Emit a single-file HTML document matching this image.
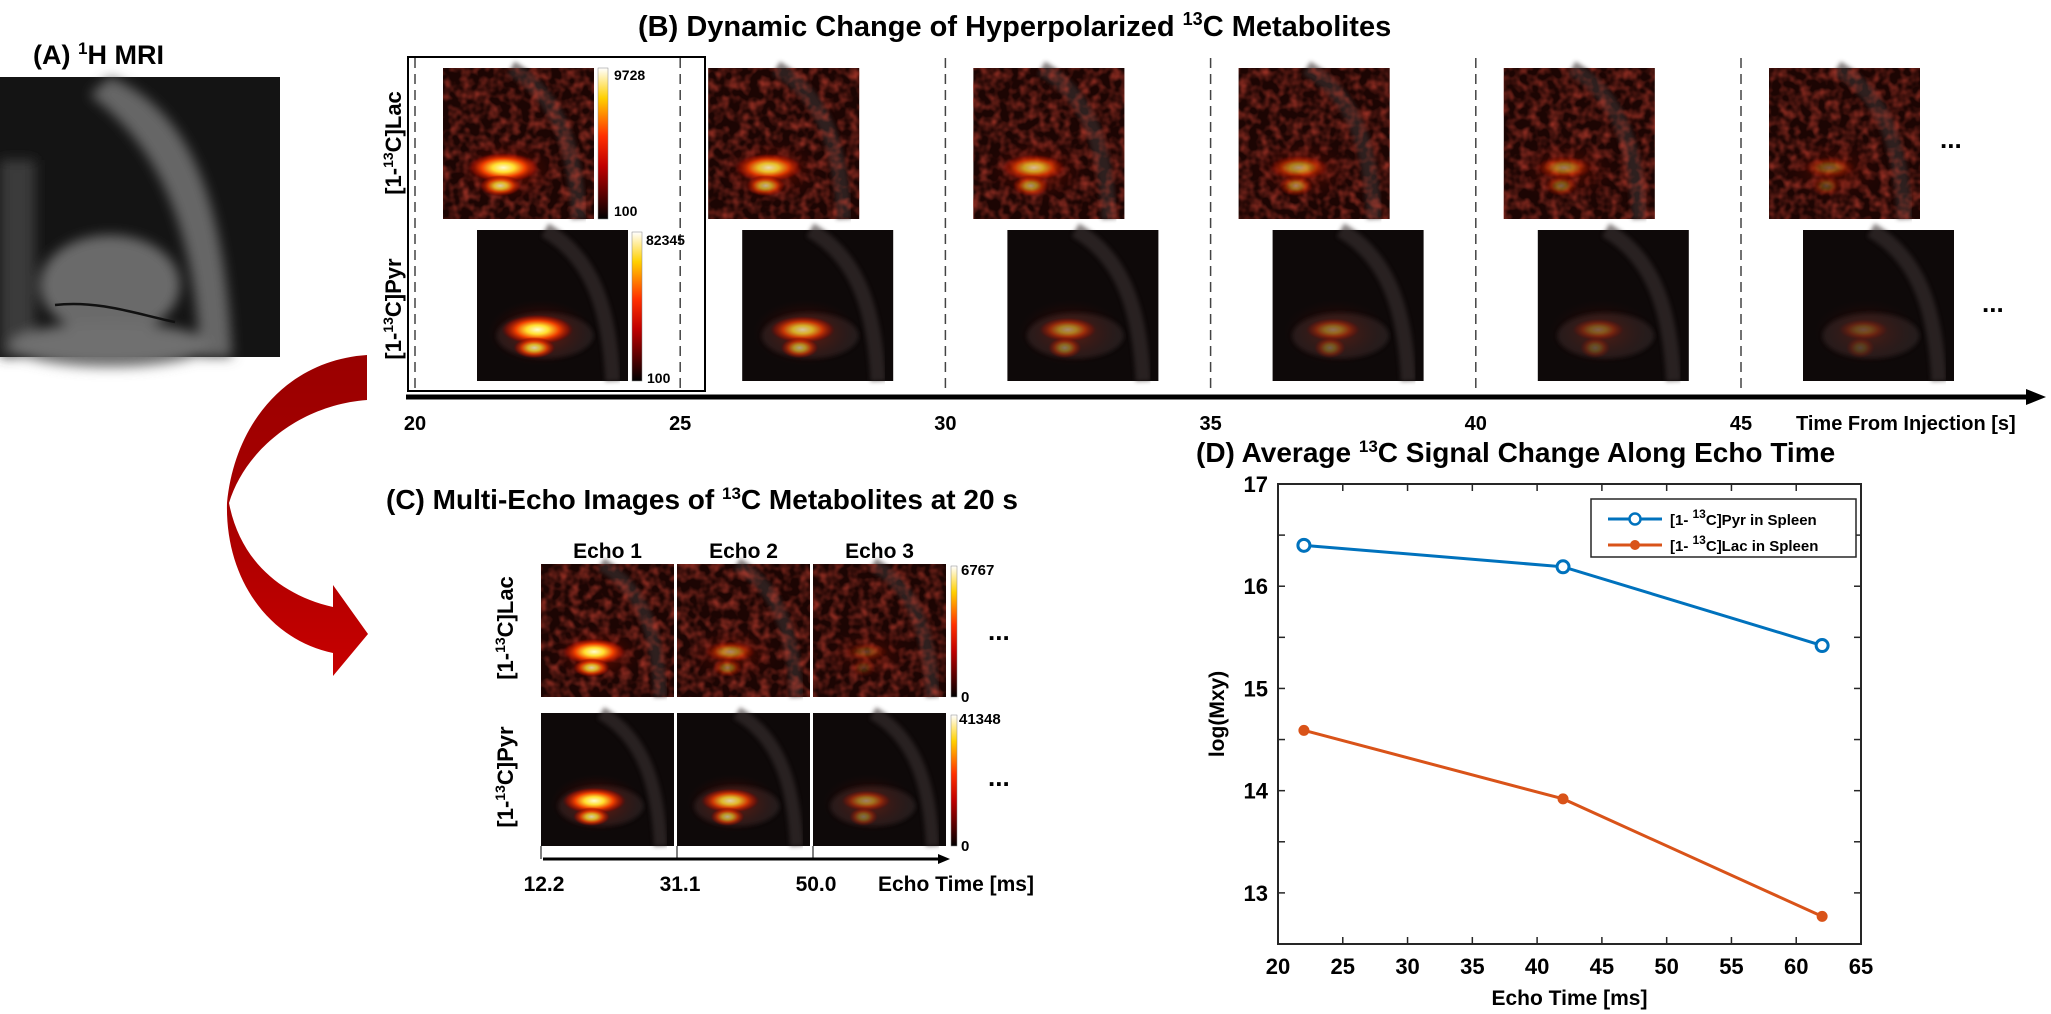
<!DOCTYPE html>
<html><head><meta charset="utf-8">
<style>
html,body{margin:0;padding:0;background:#fff;}
svg{display:block;font-family:"Liberation Sans",Arial,sans-serif;font-weight:bold;}
</style></head>
<body>
<svg id="fig" width="2051" height="1014" viewBox="0 0 2051 1014" xmlns="http://www.w3.org/2000/svg">
<defs>
  <radialGradient id="hot" cx="50%" cy="50%" r="50%">
    <stop offset="0" stop-color="#fffbd0"/>
    <stop offset="0.3" stop-color="#ffe030"/>
    <stop offset="0.6" stop-color="#f04000"/>
    <stop offset="0.85" stop-color="#a01000" stop-opacity="0.6"/>
    <stop offset="1" stop-color="#600000" stop-opacity="0"/>
  </radialGradient>
  <radialGradient id="haze" cx="50%" cy="50%" r="50%">
    <stop offset="0" stop-color="#c02000" stop-opacity="0.8"/>
    <stop offset="1" stop-color="#400000" stop-opacity="0"/>
  </radialGradient>
  <linearGradient id="cbar" x1="0" y1="1" x2="0" y2="0">
    <stop offset="0" stop-color="#000"/>
    <stop offset="0.35" stop-color="#c00000"/>
    <stop offset="0.55" stop-color="#ff3000"/>
    <stop offset="0.8" stop-color="#ffd000"/>
    <stop offset="1" stop-color="#ffffff"/>
  </linearGradient>
  <linearGradient id="arrowGrad" x1="0" y1="0" x2="0" y2="1">
    <stop offset="0" stop-color="#9a0000"/>
    <stop offset="0.5" stop-color="#a80000"/>
    <stop offset="1" stop-color="#c80000"/>
  </linearGradient>
  <filter id="noise" x="0" y="0" width="100%" height="100%">
    <feTurbulence type="fractalNoise" baseFrequency="0.1" numOctaves="2" seed="3"/>
    <feColorMatrix type="matrix" values="0 0 0 0 0.55  0 0 0 0 0.05  0 0 0 0 0.03  1.6 0 0 0 -0.6"/>
  </filter>
  <filter id="blur6"><feGaussianBlur stdDeviation="6"/></filter>
  <filter id="blur2"><feGaussianBlur stdDeviation="2"/></filter>
</defs>

<!-- (A) -->
<text x="33" y="64" font-size="27">(A) <tspan font-size="17" dy="-10">1</tspan><tspan dy="10">H MRI</tspan></text>
<g>
  <rect x="0" y="77" width="280" height="280" fill="#141414"/>
  <g filter="url(#blur6)">
    <path d="M0,160 L35,160 L35,357 L0,357Z" fill="#3a3a3a"/>
    <path d="M110,77 C190,110 225,200 232,357 L200,357 C195,240 165,150 90,95Z" fill="#666"/>
    <ellipse cx="110" cy="285" rx="70" ry="50" fill="#6a6a6a"/>
    <ellipse cx="110" cy="345" rx="100" ry="22" fill="#707070"/>
  </g>
  <path d="M55,305 C100,300 140,315 175,322" stroke="#111" stroke-width="2.5" fill="none"/>
</g>

<!-- curved arrow -->
<path d="M367,355 C290,360 235,420 227,503 C225,580 270,640 333,653 L333,676 L368,634 L333,585 L333,607 C280,595 240,560 229,503 C245,450 300,405 367,400 Z" fill="url(#arrowGrad)"/>

<!-- (B) -->
<text x="638" y="36" font-size="29">(B) Dynamic Change of Hyperpolarized <tspan font-size="18" dy="-11">13</tspan><tspan dy="11">C Metabolites</tspan></text>
<rect x="408" y="57" width="297" height="334" fill="none" stroke="#000" stroke-width="2"/>
<g id="bgroup"></g>
<text transform="translate(401,143) rotate(-90)" text-anchor="middle" font-size="22">[1-<tspan font-size="14" dy="-8">13</tspan><tspan dy="8">C]Lac</tspan></text>
<text transform="translate(401,309) rotate(-90)" text-anchor="middle" font-size="22">[1-<tspan font-size="14" dy="-8">13</tspan><tspan dy="8">C]Pyr</tspan></text>
<text x="1940" y="148" font-size="26">...</text>
<text x="1982" y="312" font-size="26">...</text>
<line x1="406" y1="397" x2="2030" y2="397" stroke="#000" stroke-width="5"/>
<polygon points="2026,389 2046,397 2026,405" fill="#000"/>
<g id="btick" font-size="20"></g>
<text x="1796" y="430" font-size="20">Time From Injection [s]</text>

<!-- (C) -->
<text x="386" y="509" font-size="28">(C) Multi-Echo Images of <tspan font-size="17" dy="-10">13</tspan><tspan dy="10">C Metabolites at 20 s</tspan></text>
<g id="cgroup"></g>
<text transform="translate(513,628) rotate(-90)" text-anchor="middle" font-size="22">[1-<tspan font-size="14" dy="-8">13</tspan><tspan dy="8">C]Lac</tspan></text>
<text transform="translate(513,777) rotate(-90)" text-anchor="middle" font-size="22">[1-<tspan font-size="14" dy="-8">13</tspan><tspan dy="8">C]Pyr</tspan></text>
<text x="988" y="640" font-size="26">...</text>
<text x="988" y="786" font-size="26">...</text>
<line x1="543" y1="859" x2="940" y2="859" stroke="#000" stroke-width="3"/>
<polygon points="938,854 950,859 938,864" fill="#000"/>
<g id="ctick" font-size="21"></g>
<text x="878" y="891" font-size="21">Echo Time [ms]</text>

<!-- (D) -->
<text x="1196" y="462" font-size="28">(D) Average <tspan font-size="17" dy="-10">13</tspan><tspan dy="10">C Signal Change Along Echo Time</tspan></text>
<g id="dchart"></g>
</svg>

<script>
// ---- Panel B data ----
var bTimes = [20, 25, 30, 35, 40, 45];
var bLacIntensity = [1.0, 0.85, 0.7, 0.55, 0.45, 0.3];
var bPyrIntensity = [1.0, 0.75, 0.5, 0.38, 0.3, 0.22];
// ---- Panel C data ----
var cEchoLabels = ["Echo 1", "Echo 2", "Echo 3"];
var cEchoTimes = ["12.2", "31.1", "50.0"];
var cLacIntensity = [1.0, 0.5, 0.2];
var cPyrIntensity = [1.0, 0.8, 0.45];
// ---- Panel D data ----
var echoTimes = [22, 42, 62];
var pyrValues = [16.4, 16.19, 15.42];
var lacValues = [14.59, 13.92, 12.77];
var xTicks = [20, 25, 30, 35, 40, 45, 50, 55, 60, 65];
var yTicks = [13, 14, 15, 16, 17];
var yMinor = [12.5, 13.5, 14.5, 15.5, 16.5];

var NS = "http://www.w3.org/2000/svg";
function mk(tag, attrs, parent) {
  var e = document.createElementNS(NS, tag);
  for (var k in attrs) e.setAttribute(k, attrs[k]);
  if (parent) parent.appendChild(e);
  return e;
}

function heatImage(parent, x, y, w, h, k, kind) {
  var g = mk("g", {}, parent);
  mk("rect", {x: x, y: y, width: w, height: h, fill: kind === "lac" ? "#1c0503" : "#0e0909"}, g);
  mk("path", {d: "M" + (x + w * 0.45) + "," + y + " C" + (x + w * 0.8) + "," + (y + h * 0.2) + " " + (x + w * 0.88) + "," + (y + h * 0.6) + " " + (x + w * 0.9) + "," + (y + h), stroke: "#3a3030", "stroke-width": w * 0.1, fill: "none", opacity: 0.6, filter: "url(#blur2)"}, g);
  if (kind === "lac") {
    mk("rect", {x: x, y: y, width: w, height: h, filter: "url(#noise)", opacity: 0.85}, g);
  } else {
    mk("ellipse", {cx: x + w * 0.45, cy: y + h * 0.7, rx: w * 0.32, ry: h * 0.15, fill: "#2a2020", opacity: 0.8, filter: "url(#blur2)"}, g);
  }
  mk("ellipse", {cx: x + w * 0.42, cy: y + h * 0.68, rx: w * 0.35, ry: h * 0.22, fill: "url(#haze)", opacity: 0.5 * k + 0.25}, g);
  mk("ellipse", {cx: x + w * 0.4, cy: y + h * 0.66, rx: w * 0.24 * (0.6 + 0.4 * k), ry: h * 0.1 * (0.6 + 0.4 * k), fill: "url(#hot)", opacity: k}, g);
  mk("ellipse", {cx: x + w * 0.38, cy: y + h * 0.78, rx: w * 0.14 * (0.6 + 0.4 * k), ry: h * 0.07, fill: "url(#hot)", opacity: 0.8 * k}, g);
  return g;
}

// Panel B
var bg = document.getElementById("bgroup");
var bt = document.getElementById("btick");
var bx0 = 423, bx1 = 1749;
function bxScale(t) { return bx0 + (t - 20) / 25 * (bx1 - bx0); }
for (var i = 0; i < bTimes.length; i++) {
  var lx = bxScale(bTimes[i]) + 20;
  var gl = heatImage(bg, lx, 68, 151, 151, bLacIntensity[i], "lac");
  
  
  var gp = heatImage(bg, lx + 34, 230, 151, 151, bPyrIntensity[i], "pyr");
  
  
  var tx = bxScale(bTimes[i]) - 8;
  var tl = mk("text", {x: tx, y: 430, "text-anchor": "middle"}, bt);
  tl.textContent = bTimes[i];
  
  
  var dl = mk("line", {x1: tx, y1: 58, x2: tx, y2: 394, stroke: "#444", "stroke-width": 1.5, "stroke-dasharray": "10,6"}, bg);
  
  
}
var cb1 = mk("rect", {x: 598, y: 68, width: 10, height: 151, fill: "url(#cbar)", stroke: "#888", "stroke-width": 0.5}, bg);


var cb2 = mk("rect", {x: 632, y: 232, width: 10, height: 149, fill: "url(#cbar)", stroke: "#888", "stroke-width": 0.5}, bg);


[["9728", 614, 80], ["100", 614, 216], ["82345", 646, 245], ["100", 647, 383]].forEach(function (a) {
  var t = mk("text", {x: a[1], y: a[2], "font-size": 14}, bg);
  t.textContent = a[0];
  
  
});

// Panel C
var cg = document.getElementById("cgroup");
var ct = document.getElementById("ctick");
var cW = 133, cX0 = 541;
for (var j = 0; j < cEchoLabels.length; j++) {
  var x = cX0 + j * (cW + 3);
  var el = mk("text", {x: x + cW / 2, y: 558, "text-anchor": "middle", "font-size": 21}, cg);
  el.textContent = cEchoLabels[j];
  
  
  var a1 = heatImage(cg, x, 564, cW, 133, cLacIntensity[j], "lac");
  
  
  var a2 = heatImage(cg, x, 713, cW, 133, cPyrIntensity[j], "pyr");
  
  
  var tk = mk("line", {x1: x, y1: 846, x2: x, y2: 859, stroke: "#000", "stroke-width": 1}, ct);
  
  
  var tt = mk("text", {x: x + 3, y: 891, "text-anchor": "middle"}, ct);
  tt.textContent = cEchoTimes[j];
  
  
}
var cc1 = mk("rect", {x: 951, y: 566, width: 6, height: 131, fill: "url(#cbar)", stroke: "#888", "stroke-width": 0.5}, cg);


var cc2 = mk("rect", {x: 951, y: 715, width: 6, height: 131, fill: "url(#cbar)", stroke: "#888", "stroke-width": 0.5}, cg);


[["6767", 961, 575], ["0", 961, 702], ["41348", 959, 724], ["0", 961, 851]].forEach(function (a) {
  var t = mk("text", {x: a[1], y: a[2], "font-size": 15}, cg);
  t.textContent = a[0];
  
  
});

// Panel D chart
var D = document.getElementById("dchart");
var L = 1278, R = 1861, T = 484, B = 944;
var xMin = 20, xMax = 65, yMin = 12.5, yMax = 17;
function sx(v) { return L + (v - xMin) / (xMax - xMin) * (R - L); }
function sy(v) { return B - (v - yMin) / (yMax - yMin) * (B - T); }
var frame = mk("rect", {x: L, y: T, width: R - L, height: B - T, fill: "#fff", stroke: "#262626", "stroke-width": 2}, D);


xTicks.forEach(function (v) {
  var X = sx(v);
  var t1 = mk("line", {x1: X, y1: B, x2: X, y2: B - 7, stroke: "#262626", "stroke-width": 1.5}, D);
  
  
  var t2 = mk("line", {x1: X, y1: T, x2: X, y2: T + 7, stroke: "#262626", "stroke-width": 1.5}, D);
  
  
  var lb = mk("text", {x: X, y: 974, "text-anchor": "middle", "font-size": 22}, D);
  lb.textContent = v;
  
  
});
yTicks.concat(yMinor).forEach(function (v) {
  var Y = sy(v);
  var t1 = mk("line", {x1: L, y1: Y, x2: L + 7, y2: Y, stroke: "#262626", "stroke-width": 1.5}, D);
  
  
  var t2 = mk("line", {x1: R, y1: Y, x2: R - 7, y2: Y, stroke: "#262626", "stroke-width": 1.5}, D);
  
  
});
yTicks.forEach(function (v) {
  var lb = mk("text", {x: L - 10, y: sy(v) + 8, "text-anchor": "end", "font-size": 22}, D);
  lb.textContent = v;
  
  
});
var xt = mk("text", {x: (L + R) / 2, y: 1005, "text-anchor": "middle", "font-size": 21}, D);
xt.textContent = "Echo Time [ms]";


var yt = mk("text", {transform: "translate(1224," + (T + B) / 2 + ") rotate(-90)", "text-anchor": "middle", "font-size": 21}, D);
yt.textContent = "log(Mxy)";



function series(vals, color, name, hollow) {
  var pts = echoTimes.map(function (t, i) { return sx(t) + "," + sy(vals[i]); }).join(" ");
  var pl = mk("polyline", {points: pts, fill: "none", stroke: color, "stroke-width": 3}, D);
  
  
  echoTimes.forEach(function (t, i) {
    var c = mk("circle", {cx: sx(t), cy: sy(vals[i]), r: hollow ? 6 : 5, fill: hollow ? "#fff" : color, stroke: color, "stroke-width": hollow ? 3 : 1}, D);
    
    
  });
}
series(pyrValues, "#0072BD", "pyr", true);
series(lacValues, "#D95319", "lac", false);

var lg = mk("g", {}, D);


mk("rect", {x: 1591, y: 499, width: 265, height: 58, fill: "#fff", stroke: "#262626", "stroke-width": 1.5}, lg);
var entries = [["Pyr", "#0072BD", true, 519], ["Lac", "#D95319", false, 545]];
entries.forEach(function (e) {
  var ln = mk("line", {x1: 1608, y1: e[3], x2: 1662, y2: e[3], stroke: e[1], "stroke-width": 3}, lg);
  
  
  var mc = mk("circle", {cx: 1635, cy: e[3], r: e[2] ? 5.5 : 4.5, fill: e[2] ? "#fff" : e[1], stroke: e[1], "stroke-width": e[2] ? 2.5 : 1}, lg);
  
  
  var tx = mk("text", {x: 1670, y: e[3] + 6, "font-size": 15}, lg);
  tx.innerHTML = '[1- <tspan font-size="12" dy="-7">13</tspan><tspan dy="7">C]' + e[0] + ' in Spleen</tspan>';
  
  
});
</script>
</body></html>
